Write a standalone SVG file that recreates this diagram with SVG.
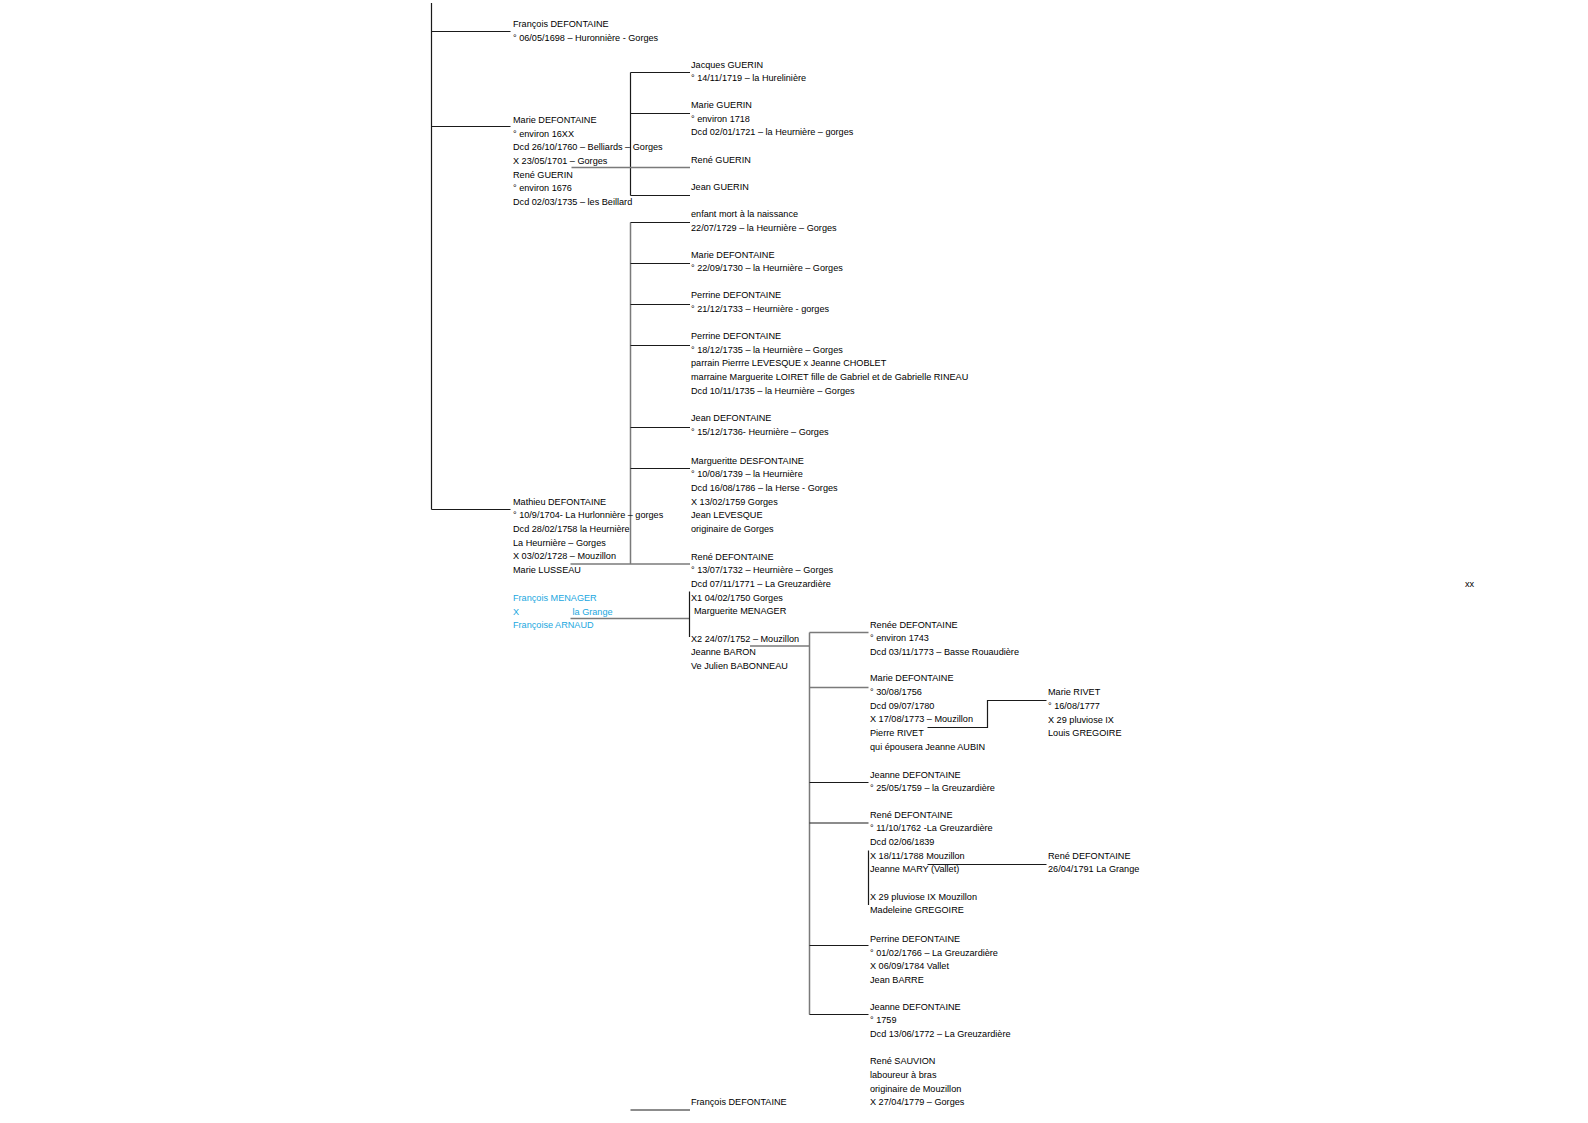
<svg xmlns="http://www.w3.org/2000/svg" width="1588" height="1123" viewBox="0 0 1588 1123">
<style>
text{font-family:"Liberation Sans",Arial,sans-serif;font-size:9.15px;fill:#000}
.b{fill:#1aa7e0}
.k{stroke:#1a1a1a;stroke-width:1.2;fill:none}
.g{stroke:#7a7a7a;stroke-width:1.5;fill:none}
</style>
<rect width="1588" height="1123" fill="#fff"/>
<g id="connectors">
<line class="k" x1="431.5" y1="3" x2="431.5" y2="509.5"/>
<line class="k" x1="431.5" y1="31.5" x2="510.5" y2="31.5"/>
<line class="k" x1="431.5" y1="126.5" x2="510.5" y2="126.5"/>
<line class="k" x1="431.5" y1="509.5" x2="510.5" y2="509.5"/>
<line class="k" x1="630.5" y1="72.5" x2="630.5" y2="195.5"/>
<line class="k" x1="630.5" y1="72.5" x2="690" y2="72.5"/>
<line class="k" x1="630.5" y1="113.5" x2="690" y2="113.5"/>
<line class="g" x1="571.5" y1="167.5" x2="690" y2="167.5"/>
<line class="k" x1="630.5" y1="195.5" x2="690" y2="195.5"/>
<line class="g" x1="630.5" y1="222.5" x2="630.5" y2="564"/>
<line class="k" x1="630.5" y1="222.5" x2="690" y2="222.5"/>
<line class="k" x1="630.5" y1="263.5" x2="690" y2="263.5"/>
<line class="k" x1="630.5" y1="304.5" x2="690" y2="304.5"/>
<line class="k" x1="630.5" y1="345.5" x2="690" y2="345.5"/>
<line class="k" x1="630.5" y1="427.5" x2="690" y2="427.5"/>
<line class="k" x1="630.5" y1="468.5" x2="690" y2="468.5"/>
<line class="g" x1="570.5" y1="564" x2="690" y2="564"/>
<line class="g" x1="570.5" y1="618.5" x2="689.5" y2="618.5"/>
<line class="k" x1="689.5" y1="591.5" x2="689.5" y2="637"/>
<line class="g" x1="750" y1="646" x2="809.5" y2="646"/>
<line class="g" x1="809.5" y1="632.5" x2="809.5" y2="1014.5"/>
<line class="g" x1="809.5" y1="632.5" x2="868.5" y2="632.5"/>
<line class="g" x1="809.5" y1="687.5" x2="868.5" y2="687.5"/>
<line class="k" x1="809.5" y1="782.5" x2="868.5" y2="782.5"/>
<line class="k" x1="809.5" y1="823" x2="868.5" y2="823"/>
<line class="k" x1="809.5" y1="945.5" x2="868.5" y2="945.5"/>
<line class="k" x1="809.5" y1="1014.5" x2="868.5" y2="1014.5"/>
<polyline class="k" points="927.5,727.5 987.5,727.5 987.5,700.5 1046.5,700.5"/>
<line class="k" x1="868.5" y1="850.5" x2="868.5" y2="905"/>
<line class="k" x1="927.5" y1="864.5" x2="1046.5" y2="864.5"/>
<line class="k" x1="630.5" y1="1110" x2="690" y2="1110"/>
</g>
<g id="francois-1698">
<text x="513" y="27.3">François DEFONTAINE</text>
<text x="513" y="41">° 06/05/1698 – Huronnière - Gorges</text>
</g>
<g id="marie-defontaine-16xx">
<text x="513" y="123">Marie DEFONTAINE</text>
<text x="513" y="136.6">° environ 16XX</text>
<text x="513" y="150.3">Dcd 26/10/1760 – Belliards – Gorges</text>
<text x="513" y="163.9">X 23/05/1701 – Gorges</text>
<text x="513" y="177.6">René GUERIN</text>
<text x="513" y="191.3">° environ 1676</text>
<text x="513" y="204.9">Dcd 02/03/1735 – les Beillard</text>
</g>
<g id="jacques-guerin">
<text x="691" y="67.6">Jacques GUERIN</text>
<text x="691" y="81.3">° 14/11/1719 – la Hurelinière</text>
</g>
<g id="marie-guerin">
<text x="691" y="108">Marie GUERIN</text>
<text x="691" y="121.6">° environ 1718</text>
<text x="691" y="135.3">Dcd 02/01/1721 – la Heurnière – gorges</text>
</g>
<g id="rene-guerin">
<text x="691" y="163">René GUERIN</text>
</g>
<g id="jean-guerin">
<text x="691" y="190.3">Jean GUERIN</text>
</g>
<g id="enfant-1729">
<text x="691" y="217">enfant mort à la naissance</text>
<text x="691" y="230.6">22/07/1729 – la Heurnière – Gorges</text>
</g>
<g id="marie-1730">
<text x="691" y="257.6">Marie DEFONTAINE</text>
<text x="691" y="271.3">° 22/09/1730 – la Heurnière – Gorges</text>
</g>
<g id="perrine-1733">
<text x="691" y="298.3">Perrine DEFONTAINE</text>
<text x="691" y="312">° 21/12/1733 – Heurnière  - gorges</text>
</g>
<g id="perrine-1735">
<text x="691" y="339">Perrine DEFONTAINE</text>
<text x="691" y="352.6">° 18/12/1735 – la Heurnière – Gorges</text>
<text x="691" y="366.3">parrain Pierrre LEVESQUE x Jeanne CHOBLET</text>
<text x="691" y="380">marraine Marguerite LOIRET fille de Gabriel et de Gabrielle RINEAU</text>
<text x="691" y="393.6">Dcd 10/11/1735 – la Heurnière – Gorges</text>
</g>
<g id="jean-1736">
<text x="691" y="420.6">Jean DEFONTAINE</text>
<text x="691" y="434.6">° 15/12/1736- Heurnière – Gorges</text>
</g>
<g id="marguerite-1739">
<text x="691" y="463.6">Margueritte DESFONTAINE</text>
<text x="691" y="477.3">° 10/08/1739 – la Heurnière</text>
<text x="691" y="491">Dcd 16/08/1786 – la Herse  - Gorges</text>
<text x="691" y="504.6">X 13/02/1759 Gorges</text>
<text x="691" y="518.3">Jean LEVESQUE</text>
<text x="691" y="532">originaire de Gorges</text>
</g>
<g id="mathieu-1704">
<text x="513" y="504.6">Mathieu  DEFONTAINE</text>
<text x="513" y="518.3">° 10/9/1704- La Hurlonnière – gorges</text>
<text x="513" y="532">Dcd 28/02/1758 la Heurnière</text>
<text x="513" y="545.6">La Heurnière – Gorges</text>
<text x="513" y="559.3">X 03/02/1728 – Mouzillon</text>
<text x="513" y="573">Marie LUSSEAU</text>
</g>
<g id="menager">
<text class="b" x="513" y="601">François MENAGER</text>
<text class="b" x="513" y="614.6">X</text>
<text class="b" x="572.5" y="614.6">la Grange</text>
<text class="b" x="513" y="628.3">Françoise ARNAUD</text>
</g>
<g id="rene-1732">
<text x="691" y="559.6">René DEFONTAINE</text>
<text x="691" y="573.3">° 13/07/1732 – Heurnière – Gorges</text>
<text x="691" y="587">Dcd 07/11/1771 – La Greuzardière</text>
<text x="691" y="600.6">X1 04/02/1750 Gorges</text>
<text x="694" y="614.3">Marguerite MENAGER</text>
<text x="691" y="641.6">X2 24/07/1752 – Mouzillon</text>
<text x="691" y="655.3">Jeanne BARON</text>
<text x="691" y="669">Ve Julien BABONNEAU</text>
</g>
<g id="renee-1743">
<text x="870" y="627.6">Renée DEFONTAINE</text>
<text x="870" y="641.3">° environ 1743</text>
<text x="870" y="655">Dcd  03/11/1773 – Basse Rouaudière</text>
</g>
<g id="marie-1756">
<text x="870" y="681.3">Marie DEFONTAINE</text>
<text x="870" y="695">° 30/08/1756</text>
<text x="870" y="708.6">Dcd 09/07/1780</text>
<text x="870" y="722.3">X 17/08/1773 – Mouzillon</text>
<text x="870" y="736">Pierre RIVET</text>
<text x="870" y="749.6">qui épousera Jeanne AUBIN</text>
</g>
<g id="marie-rivet">
<text x="1048" y="695.3">Marie RIVET</text>
<text x="1048" y="709">° 16/08/1777</text>
<text x="1048" y="722.6">X 29 pluviose IX</text>
<text x="1048" y="736.3">Louis GREGOIRE</text>
</g>
<g id="jeanne-1759">
<text x="870" y="777.6">Jeanne DEFONTAINE</text>
<text x="870" y="791.3">° 25/05/1759 – la Greuzardière</text>
</g>
<g id="rene-1762">
<text x="870" y="817.6">René DEFONTAINE</text>
<text x="870" y="831.3">° 11/10/1762 -La Greuzardière</text>
<text x="870" y="845">Dcd 02/06/1839</text>
<text x="870" y="858.6">X 18/11/1788 Mouzillon</text>
<text x="870" y="872.3">Jeanne MARY (Vallet)</text>
<text x="870" y="899.6">X 29 pluviose IX Mouzillon</text>
<text x="870" y="913.3">Madeleine GREGOIRE</text>
</g>
<g id="rene-1791">
<text x="1048" y="858.6">René DEFONTAINE</text>
<text x="1048" y="872.3">26/04/1791 La Grange</text>
</g>
<g id="perrine-1766">
<text x="870" y="942">Perrine DEFONTAINE</text>
<text x="870" y="955.6">° 01/02/1766 – La Greuzardière</text>
<text x="870" y="969.3">X 06/09/1784 Vallet</text>
<text x="870" y="983">Jean BARRE</text>
</g>
<g id="jeanne-1759b">
<text x="870" y="1009.6">Jeanne DEFONTAINE</text>
<text x="870" y="1023.3">° 1759</text>
<text x="870" y="1037">Dcd 13/06/1772 – La Greuzardière</text>
</g>
<g id="rene-sauvion">
<text x="870" y="1064.3">René SAUVION</text>
<text x="870" y="1078">laboureur à bras</text>
<text x="870" y="1091.6">originaire de Mouzillon</text>
<text x="870" y="1105.3">X 27/04/1779 – Gorges</text>
</g>
<g id="francois-bottom">
<text x="691" y="1105.3">François DEFONTAINE</text>
</g>
<g id="xx">
<text x="1465" y="587.3">xx</text>
</g>
</svg>
